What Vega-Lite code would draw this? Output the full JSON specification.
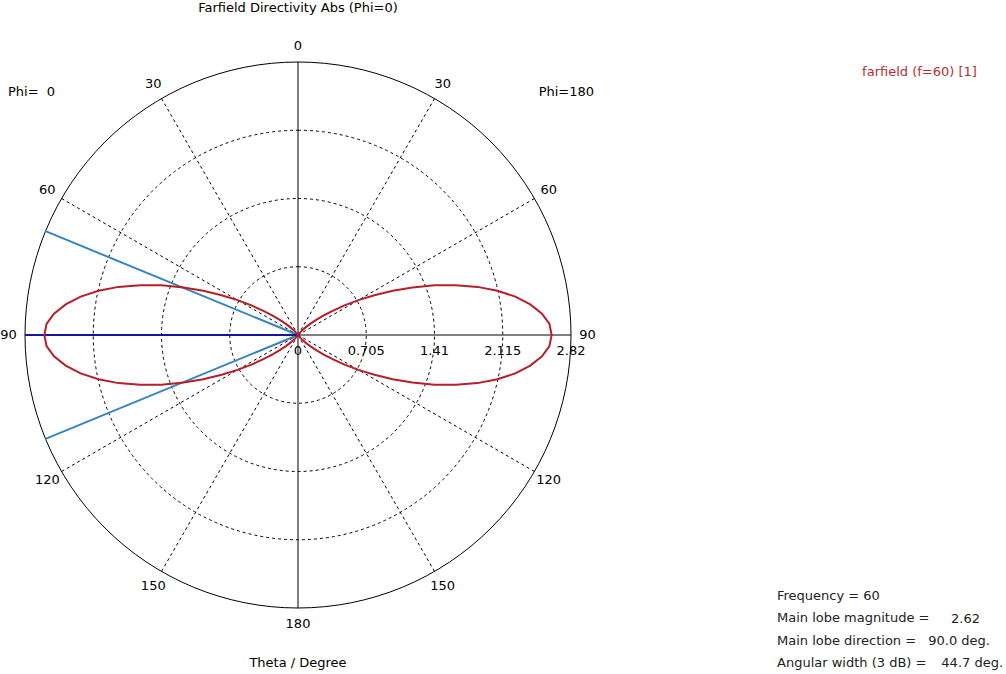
{
  "$schema": "https://vega.github.io/schema/vega-lite/v6.json",
  "width": 546,
  "height": 546,
  "autosize": {"type": "none"},
  "padding": {"left": 25, "top": 62, "right": 435, "bottom": 66},
  "background": "white",
  "config": {
    "view": {"stroke": null},
    "axis": {"disable": true},
    "text": {"font": "DejaVu Sans", "fontSize": 13, "color": "black"}
  },
  "datasets": {
    "rings": [{"r": 0.705}, {"r": 1.41}, {"r": 2.115}],
    "outer": [{"r": 2.82}],
    "spokes": [
      {"ang": 30, "r": 0}, {"ang": 30, "r": 2.82}, {"ang": 60, "r": 0}, {"ang": 60, "r": 2.82},
      {"ang": 120, "r": 0}, {"ang": 120, "r": 2.82}, {"ang": 150, "r": 0}, {"ang": 150, "r": 2.82},
      {"ang": -30, "r": 0}, {"ang": -30, "r": 2.82}, {"ang": -60, "r": 0}, {"ang": -60, "r": 2.82},
      {"ang": -120, "r": 0}, {"ang": -120, "r": 2.82}, {"ang": -150, "r": 0}, {"ang": -150, "r": 2.82}
    ],
    "axes": [
      {"ang": 0, "r": 0}, {"ang": 0, "r": 2.82}, {"ang": 180, "r": 0}, {"ang": 180, "r": 2.82},
      {"ang": 90, "r": 0}, {"ang": 90, "r": 2.82}, {"ang": -90, "r": 0}, {"ang": -90, "r": 2.82}
    ],
    "rlabels": [{"v": 0, "label": "0"}, {"v": 0.705, "label": "0.705"}, {"v": 1.41, "label": "1.41"}, {"v": 2.115, "label": "2.115"}, {"v": 2.82, "label": "2.82"}],
    "alabels": [
      {"ang": 0, "label": "0"}, {"ang": -30, "label": "30"}, {"ang": -60, "label": "60"}, {"ang": -90, "label": "90"}, {"ang": -120, "label": "120"}, {"ang": -150, "label": "150"}, {"ang": 180, "label": "180"},
      {"ang": 30, "label": "30"}, {"ang": 60, "label": "60"}, {"ang": 90, "label": "90"}, {"ang": 120, "label": "120"}, {"ang": 150, "label": "150"}
    ],
    "beams": [
      {"theta": 67.65, "r": 0}, {"theta": 67.65, "r": 2.82}, {"theta": 112.35, "r": 0}, {"theta": 112.35, "r": 2.82}
    ],
    "mainlobe": [{"theta": 90, "r": 0}, {"theta": 90, "r": 2.82}],
    "farfield": [
      {"phi": 180, "theta": 0, "d": 0}, {"phi": 180, "theta": 30, "d": 0.005}, {"phi": 180, "theta": 35, "d": 0.018}, {"phi": 180, "theta": 40, "d": 0.049}, {"phi": 180, "theta": 45, "d": 0.115}, {"phi": 180, "theta": 47.5, "d": 0.17}, {"phi": 180, "theta": 50, "d": 0.24}, {"phi": 180, "theta": 52.5, "d": 0.33}, {"phi": 180, "theta": 55, "d": 0.43}, {"phi": 180, "theta": 57.5, "d": 0.57}, {"phi": 180, "theta": 60, "d": 0.72}, {"phi": 180, "theta": 62.5, "d": 0.89}, {"phi": 180, "theta": 65, "d": 1.08}, {"phi": 180, "theta": 67.5, "d": 1.28}, {"phi": 180, "theta": 70, "d": 1.5}, {"phi": 180, "theta": 72.5, "d": 1.71}, {"phi": 180, "theta": 75, "d": 1.92}, {"phi": 180, "theta": 77.5, "d": 2.11}, {"phi": 180, "theta": 80, "d": 2.28}, {"phi": 180, "theta": 82.5, "d": 2.42}, {"phi": 180, "theta": 85, "d": 2.53}, {"phi": 180, "theta": 87.5, "d": 2.6}, {"phi": 180, "theta": 90, "d": 2.62},
      {"phi": 180, "theta": 92.5, "d": 2.6}, {"phi": 180, "theta": 95, "d": 2.53}, {"phi": 180, "theta": 97.5, "d": 2.42}, {"phi": 180, "theta": 100, "d": 2.28}, {"phi": 180, "theta": 102.5, "d": 2.11}, {"phi": 180, "theta": 105, "d": 1.92}, {"phi": 180, "theta": 107.5, "d": 1.71}, {"phi": 180, "theta": 110, "d": 1.5}, {"phi": 180, "theta": 112.5, "d": 1.28}, {"phi": 180, "theta": 115, "d": 1.08}, {"phi": 180, "theta": 117.5, "d": 0.89}, {"phi": 180, "theta": 120, "d": 0.72}, {"phi": 180, "theta": 122.5, "d": 0.57}, {"phi": 180, "theta": 125, "d": 0.43}, {"phi": 180, "theta": 127.5, "d": 0.33}, {"phi": 180, "theta": 130, "d": 0.24}, {"phi": 180, "theta": 132.5, "d": 0.17}, {"phi": 180, "theta": 135, "d": 0.115}, {"phi": 180, "theta": 140, "d": 0.049}, {"phi": 180, "theta": 145, "d": 0.018}, {"phi": 180, "theta": 150, "d": 0.005}, {"phi": 180, "theta": 180, "d": 0},
      {"phi": 0, "theta": 0, "d": 0}, {"phi": 0, "theta": 30, "d": 0.005}, {"phi": 0, "theta": 35, "d": 0.018}, {"phi": 0, "theta": 40, "d": 0.049}, {"phi": 0, "theta": 45, "d": 0.115}, {"phi": 0, "theta": 47.5, "d": 0.17}, {"phi": 0, "theta": 50, "d": 0.24}, {"phi": 0, "theta": 52.5, "d": 0.33}, {"phi": 0, "theta": 55, "d": 0.43}, {"phi": 0, "theta": 57.5, "d": 0.57}, {"phi": 0, "theta": 60, "d": 0.72}, {"phi": 0, "theta": 62.5, "d": 0.89}, {"phi": 0, "theta": 65, "d": 1.08}, {"phi": 0, "theta": 67.5, "d": 1.28}, {"phi": 0, "theta": 70, "d": 1.5}, {"phi": 0, "theta": 72.5, "d": 1.71}, {"phi": 0, "theta": 75, "d": 1.92}, {"phi": 0, "theta": 77.5, "d": 2.11}, {"phi": 0, "theta": 80, "d": 2.28}, {"phi": 0, "theta": 82.5, "d": 2.42}, {"phi": 0, "theta": 85, "d": 2.53}, {"phi": 0, "theta": 87.5, "d": 2.6}, {"phi": 0, "theta": 90, "d": 2.62},
      {"phi": 0, "theta": 92.5, "d": 2.6}, {"phi": 0, "theta": 95, "d": 2.53}, {"phi": 0, "theta": 97.5, "d": 2.42}, {"phi": 0, "theta": 100, "d": 2.28}, {"phi": 0, "theta": 102.5, "d": 2.11}, {"phi": 0, "theta": 105, "d": 1.92}, {"phi": 0, "theta": 107.5, "d": 1.71}, {"phi": 0, "theta": 110, "d": 1.5}, {"phi": 0, "theta": 112.5, "d": 1.28}, {"phi": 0, "theta": 115, "d": 1.08}, {"phi": 0, "theta": 117.5, "d": 0.89}, {"phi": 0, "theta": 120, "d": 0.72}, {"phi": 0, "theta": 122.5, "d": 0.57}, {"phi": 0, "theta": 125, "d": 0.43}, {"phi": 0, "theta": 127.5, "d": 0.33}, {"phi": 0, "theta": 130, "d": 0.24}, {"phi": 0, "theta": 132.5, "d": 0.17}, {"phi": 0, "theta": 135, "d": 0.115}, {"phi": 0, "theta": 140, "d": 0.049}, {"phi": 0, "theta": 145, "d": 0.018}, {"phi": 0, "theta": 150, "d": 0.005}, {"phi": 0, "theta": 180, "d": 0}
    ]
  },
  "layer": [
    {
      "data": {"name": "rings"},
      "mark": {"type": "arc", "theta": 0, "theta2": 6.2832, "fill": "transparent", "stroke": "black", "strokeWidth": 1, "strokeDash": [3, 3]},
      "encoding": {"radius": {"field": "r", "type": "quantitative", "stack": null, "scale": {"type": "linear", "domain": [0, 2.82], "range": [0, 273], "zero": true, "nice": false}}}
    },
    {
      "data": {"name": "outer"},
      "mark": {"type": "arc", "theta": 0, "theta2": 6.2832, "fill": "transparent", "stroke": "black", "strokeWidth": 1},
      "encoding": {"radius": {"field": "r", "type": "quantitative", "stack": null, "scale": {"type": "linear", "domain": [0, 2.82], "range": [0, 273], "zero": true, "nice": false}}}
    },
    {
      "data": {"name": "spokes"},
      "transform": [
        {"calculate": "datum.r*sin(datum.ang*PI/180)", "as": "sx"},
        {"calculate": "datum.r*cos(datum.ang*PI/180)", "as": "sy"}
      ],
      "mark": {"type": "line", "stroke": "black", "strokeWidth": 1, "strokeDash": [3, 3]},
      "encoding": {
        "x": {"field": "sx", "type": "quantitative", "scale": {"domain": [-2.82, 2.82], "nice": false, "zero": false}},
        "y": {"field": "sy", "type": "quantitative", "scale": {"domain": [-2.82, 2.82], "nice": false, "zero": false}},
        "detail": {"field": "ang", "type": "nominal"},
        "order": {"field": "r", "type": "quantitative"}
      }
    },
    {
      "data": {"name": "axes"},
      "transform": [
        {"calculate": "datum.r*sin(datum.ang*PI/180)", "as": "sx"},
        {"calculate": "datum.r*cos(datum.ang*PI/180)", "as": "sy"}
      ],
      "mark": {"type": "line", "stroke": "black", "strokeWidth": 1},
      "encoding": {
        "x": {"field": "sx", "type": "quantitative", "scale": {"domain": [-2.82, 2.82], "nice": false, "zero": false}},
        "y": {"field": "sy", "type": "quantitative", "scale": {"domain": [-2.82, 2.82], "nice": false, "zero": false}},
        "detail": {"field": "ang", "type": "nominal"},
        "order": {"field": "r", "type": "quantitative"}
      }
    },
    {
      "data": {"name": "rlabels"},
      "mark": {"type": "text", "dy": 16, "align": "center", "baseline": "middle"},
      "encoding": {
        "x": {"field": "v", "type": "quantitative", "scale": {"domain": [-2.82, 2.82], "nice": false, "zero": false}},
        "y": {"datum": 0, "type": "quantitative", "scale": {"domain": [-2.82, 2.82], "nice": false, "zero": false}},
        "text": {"field": "label", "type": "nominal"}
      }
    },
    {
      "data": {"name": "beams"},
      "transform": [
        {"calculate": "-datum.r*sin(datum.theta*PI/180)", "as": "bx"},
        {"calculate": "datum.r*cos(datum.theta*PI/180)", "as": "by"}
      ],
      "mark": {"type": "line", "stroke": "#3685c0", "strokeWidth": 2},
      "encoding": {
        "x": {"field": "bx", "type": "quantitative", "scale": {"domain": [-2.82, 2.82], "nice": false, "zero": false}},
        "y": {"field": "by", "type": "quantitative", "scale": {"domain": [-2.82, 2.82], "nice": false, "zero": false}},
        "detail": {"field": "theta", "type": "nominal"},
        "order": {"field": "r", "type": "quantitative"}
      }
    },
    {
      "data": {"name": "mainlobe"},
      "transform": [
        {"calculate": "-datum.r*sin(datum.theta*PI/180)", "as": "bx"},
        {"calculate": "datum.r*cos(datum.theta*PI/180)", "as": "by"}
      ],
      "mark": {"type": "line", "stroke": "#16169a", "strokeWidth": 2},
      "encoding": {
        "x": {"field": "bx", "type": "quantitative", "scale": {"domain": [-2.82, 2.82], "nice": false, "zero": false}},
        "y": {"field": "by", "type": "quantitative", "scale": {"domain": [-2.82, 2.82], "nice": false, "zero": false}},
        "order": {"field": "r", "type": "quantitative"}
      }
    },
    {
      "data": {"name": "farfield"},
      "transform": [
        {"calculate": "(datum.phi == 0 ? -1 : 1) * datum.d * sin(datum.theta*PI/180)", "as": "px"},
        {"calculate": "datum.d * cos(datum.theta*PI/180)", "as": "py"}
      ],
      "mark": {"type": "line", "strokeWidth": 2, "stroke": "#b5202a", "interpolate": "linear"},
      "encoding": {
        "x": {"field": "px", "type": "quantitative", "scale": {"domain": [-2.82, 2.82], "nice": false, "zero": false}},
        "y": {"field": "py", "type": "quantitative", "scale": {"domain": [-2.82, 2.82], "nice": false, "zero": false}},
        "detail": {"field": "phi", "type": "nominal"},
        "order": {"field": "theta", "type": "quantitative"}
      }
    },
    {
      "data": {"name": "alabels"},
      "transform": [
        {"calculate": "2.99*sin(datum.ang*PI/180)", "as": "lx"},
        {"calculate": "2.99*cos(datum.ang*PI/180)", "as": "ly"}
      ],
      "mark": {"type": "text", "align": "center", "baseline": "middle"},
      "encoding": {
        "x": {"field": "lx", "type": "quantitative", "scale": {"domain": [-2.82, 2.82], "nice": false, "zero": false}},
        "y": {"field": "ly", "type": "quantitative", "scale": {"domain": [-2.82, 2.82], "nice": false, "zero": false}},
        "text": {"field": "label", "type": "nominal"}
      }
    },
    {
      "data": {"values": [{}]},
      "mark": {"type": "text", "align": "center", "baseline": "middle", "text": "Farfield Directivity Abs (Phi=0)"},
      "encoding": {
        "x": {"datum": 0, "type": "quantitative", "scale": {"domain": [-2.82, 2.82], "nice": false, "zero": false}},
        "y": {"datum": 3.378, "type": "quantitative", "scale": {"domain": [-2.82, 2.82], "nice": false, "zero": false}}
      }
    },
    {
      "data": {"values": [{}]},
      "mark": {"type": "text", "align": "left", "baseline": "middle", "text": "Phi=\u00a0\u00a00"},
      "encoding": {
        "x": {"datum": -2.996, "type": "quantitative", "scale": {"domain": [-2.82, 2.82], "nice": false, "zero": false}},
        "y": {"datum": 2.51, "type": "quantitative", "scale": {"domain": [-2.82, 2.82], "nice": false, "zero": false}}
      }
    },
    {
      "data": {"values": [{}]},
      "mark": {"type": "text", "align": "right", "baseline": "middle", "text": "Phi=180"},
      "encoding": {
        "x": {"datum": 3.058, "type": "quantitative", "scale": {"domain": [-2.82, 2.82], "nice": false, "zero": false}},
        "y": {"datum": 2.51, "type": "quantitative", "scale": {"domain": [-2.82, 2.82], "nice": false, "zero": false}}
      }
    },
    {
      "data": {"values": [{}]},
      "mark": {"type": "text", "align": "left", "baseline": "middle", "color": "#b03030", "text": "farfield (f=60) [1]"},
      "encoding": {
        "x": {"datum": 5.827, "type": "quantitative", "scale": {"domain": [-2.82, 2.82], "nice": false, "zero": false}},
        "y": {"datum": 2.717, "type": "quantitative", "scale": {"domain": [-2.82, 2.82], "nice": false, "zero": false}}
      }
    },
    {
      "data": {"values": [{}]},
      "mark": {"type": "text", "align": "center", "baseline": "middle", "text": "Theta / Degree"},
      "encoding": {
        "x": {"datum": 0, "type": "quantitative", "scale": {"domain": [-2.82, 2.82], "nice": false, "zero": false}},
        "y": {"datum": -3.388, "type": "quantitative", "scale": {"domain": [-2.82, 2.82], "nice": false, "zero": false}}
      }
    },
    {
      "data": {"values": [{}]},
      "mark": {"type": "text", "align": "left", "baseline": "middle", "lineHeight": 22.3, "color": "#222222", "text": ["Frequency = 60", "Main lobe magnitude =", "Main lobe direction =", "Angular width (3 dB) ="]},
      "encoding": {
        "x": {"datum": 4.948, "type": "quantitative", "scale": {"domain": [-2.82, 2.82], "nice": false, "zero": false}},
        "y": {"datum": -2.696, "type": "quantitative", "scale": {"domain": [-2.82, 2.82], "nice": false, "zero": false}}
      }
    },
    {
      "data": {"values": [{}]},
      "mark": {"type": "text", "align": "right", "baseline": "middle", "color": "#222222", "text": "2.62"},
      "encoding": {
        "x": {"datum": 7.045, "type": "quantitative", "scale": {"domain": [-2.82, 2.82], "nice": false, "zero": false}},
        "y": {"datum": -2.934, "type": "quantitative", "scale": {"domain": [-2.82, 2.82], "nice": false, "zero": false}}
      }
    },
    {
      "data": {"values": [{}]},
      "mark": {"type": "text", "align": "right", "baseline": "middle", "color": "#222222", "text": "90.0 deg."},
      "encoding": {
        "x": {"datum": 7.148, "type": "quantitative", "scale": {"domain": [-2.82, 2.82], "nice": false, "zero": false}},
        "y": {"datum": -3.161, "type": "quantitative", "scale": {"domain": [-2.82, 2.82], "nice": false, "zero": false}}
      }
    },
    {
      "data": {"values": [{}]},
      "mark": {"type": "text", "align": "right", "baseline": "middle", "color": "#222222", "text": "44.7 deg."},
      "encoding": {
        "x": {"datum": 7.283, "type": "quantitative", "scale": {"domain": [-2.82, 2.82], "nice": false, "zero": false}},
        "y": {"datum": -3.388, "type": "quantitative", "scale": {"domain": [-2.82, 2.82], "nice": false, "zero": false}}
      }
    }
  ]
}
